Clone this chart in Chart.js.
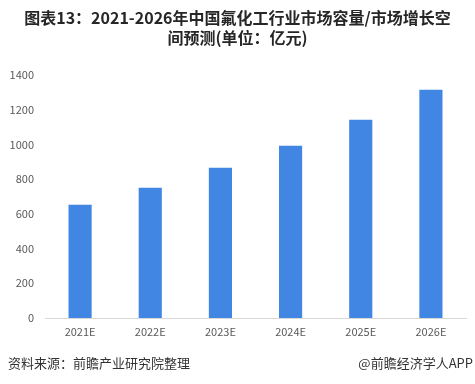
<!DOCTYPE html>
<html>
<head>
<meta charset="utf-8">
<script src="https://cdn.jsdelivr.net/npm/chart.js@4/dist/chart.umd.min.js"></script>
<style>
  html, body { margin: 0; padding: 0; background: #fff; }
  #wrap { position: relative; width: 475px; height: 384px; overflow: hidden; }
  #chart { position: absolute; left: 0; top: 0; }
  .title {
    position: absolute; left: 0; top: 7px; width: 475px; text-align: center;
    font: bold 16px "Noto Sans CJK SC", sans-serif; line-height: 20px; color: #262626;
  }
  .src, .brand {
    position: absolute; top: 354px; font: 13px "Noto Sans CJK SC", sans-serif;
    line-height: 18px; color: #333;
  }
  .src { left: 8px; }
  .brand { right: 2px; }
</style>
</head>
<body>
<div id="wrap">
  <canvas id="chart" width="475" height="384"></canvas>
  <div class="title">图表13：2021-2026年中国氟化工行业市场容量/市场增长空<br>间预测(单位：亿元)</div>
  <div class="src">资料来源：前瞻产业研究院整理</div>
  <div class="brand">@前瞻经济学人APP</div>
</div>
<script>
// market size, 100 million yuan
const years = ["2021E", "2022E", "2023E", "2024E", "2025E", "2026E"];
const marketSize = [652, 750, 865, 992, 1142, 1315];
const yTicks = [0, 200, 400, 600, 800, 1000, 1200, 1400];

const BAR_BLUE = "#4186E2";
const TICK_GRAY = "#595959";

new Chart(document.getElementById("chart"), {
  type: "bar",
  data: {
    labels: years,
    datasets: [{ data: marketSize, backgroundColor: BAR_BLUE, barPercentage: 0.66, categoryPercentage: 0.5 }]
  },
  options: {
    responsive: false,
    animation: false,
    layout: { padding: { top: 75, right: 9, bottom: 36, left: 0 } },
    plugins: { legend: { display: false }, tooltip: { enabled: false } },
    scales: {
      x: {
        grid: { display: false, drawTicks: false },
        border: { display: true, color: "#d9d9d9" },
        ticks: { color: TICK_GRAY, padding: 7, font: { family: "Noto Sans CJK SC", size: 11 } },
        afterFit: s => { s.height = 30; }
      },
      y: {
        min: 0, max: 1400,
        afterBuildTicks: s => { s.ticks = yTicks.map(v => ({ value: v })); },
        grid: { display: false, drawTicks: false },
        border: { display: false },
        ticks: {
          color: TICK_GRAY, padding: 11, font: { family: "Noto Sans CJK SC", size: 11 },
          callback: v => String(v)
        },
        afterFit: s => { s.width = 45; }
      }
    }
  }
});
</script>
</body>
</html>
